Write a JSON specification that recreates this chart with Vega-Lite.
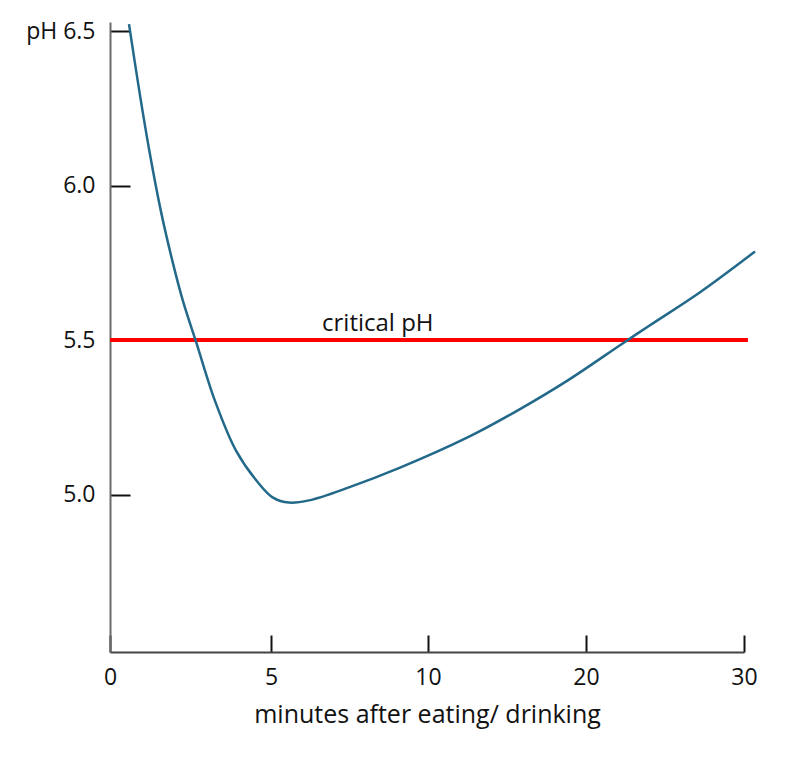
{
  "$schema": "https://vega.github.io/schema/vega-lite/v6.json",
  "autosize": "none",
  "width": 634,
  "height": 630,
  "padding": {"left": 110, "top": 22, "right": 56, "bottom": 114},
  "background": "white",
  "config": {
    "view": {"stroke": null},
    "font": "Open Sans",
    "axis": {"grid": false, "labelFont": "Open Sans", "titleFont": "Open Sans", "labelColor": "#111", "titleColor": "#111"}
  },
  "datasets": {
    "curve": [
      {"minutes": 0.59, "pH": 6.523},
      {"minutes": 0.916, "pH": 6.303},
      {"minutes": 1.227, "pH": 6.11},
      {"minutes": 1.584, "pH": 5.916},
      {"minutes": 1.941, "pH": 5.755},
      {"minutes": 2.267, "pH": 5.626},
      {"minutes": 2.686, "pH": 5.49},
      {"minutes": 3.261, "pH": 5.303},
      {"minutes": 3.913, "pH": 5.142},
      {"minutes": 4.627, "pH": 5.035},
      {"minutes": 5.064, "pH": 4.99},
      {"minutes": 5.573, "pH": 4.974},
      {"minutes": 6.21, "pH": 4.981},
      {"minutes": 7.48, "pH": 5.023},
      {"minutes": 9.11, "pH": 5.087},
      {"minutes": 12.47, "pH": 5.184},
      {"minutes": 15.63, "pH": 5.271},
      {"minutes": 18.8, "pH": 5.368},
      {"minutes": 22.34, "pH": 5.49},
      {"minutes": 24.05, "pH": 5.548},
      {"minutes": 27.22, "pH": 5.655},
      {"minutes": 30.7, "pH": 5.787}
    ],
    "critical": [{"start": 0, "end": 30.25, "pH": 5.5, "label": "critical pH", "labelAt": 8.4}]
  },
  "encoding": {
    "x": {
      "type": "quantitative",
      "scale": {"domain": [0, 5, 10, 20, 30], "range": [0, 161, 318, 476, 634], "nice": false, "zero": false},
      "axis": {
        "title": "minutes after eating/ drinking",
        "values": [0, 5, 10, 20, 30],
        "format": "d",
        "tickSize": -17,
        "tickWidth": 2,
        "tickColor": "#111",
        "domainColor": "#444",
        "domainWidth": 2,
        "labelFontSize": 23,
        "labelPadding": 31,
        "labelFlush": false,
        "titleFontSize": 25,
        "titleFontWeight": "normal",
        "titlePadding": 13
      }
    },
    "y": {
      "type": "quantitative",
      "scale": {"domain": [4.49, 6.53], "nice": false, "zero": false},
      "axis": {
        "title": null,
        "values": [5.0, 5.5, 6.0, 6.5],
        "labelExpr": "datum.value == 6.5 ? 'pH 6.5' : format(datum.value, '.1f')",
        "tickSize": -20,
        "tickWidth": 2,
        "tickColor": "#111",
        "domainColor": "#6b6b6b",
        "domainWidth": 2,
        "labelFontSize": 23,
        "labelPadding": 35,
        "labelFlush": false
      }
    }
  },
  "layer": [
    {
      "data": {"name": "critical"},
      "mark": {"type": "rule", "color": "#ff0000", "strokeWidth": 4},
      "encoding": {
        "x": {"field": "start"},
        "x2": {"field": "end"},
        "y": {"field": "pH"}
      }
    },
    {
      "data": {"name": "critical"},
      "mark": {"type": "text", "fontSize": 24, "baseline": "bottom", "align": "center", "dy": -4, "color": "#111"},
      "encoding": {
        "x": {"field": "labelAt"},
        "y": {"field": "pH"},
        "text": {"field": "label"}
      }
    },
    {
      "data": {"name": "curve"},
      "mark": {"type": "line", "color": "#23698a", "strokeWidth": 2.5, "interpolate": "catmull-rom"},
      "encoding": {
        "x": {"field": "minutes"},
        "y": {"field": "pH"}
      }
    }
  ]
}
